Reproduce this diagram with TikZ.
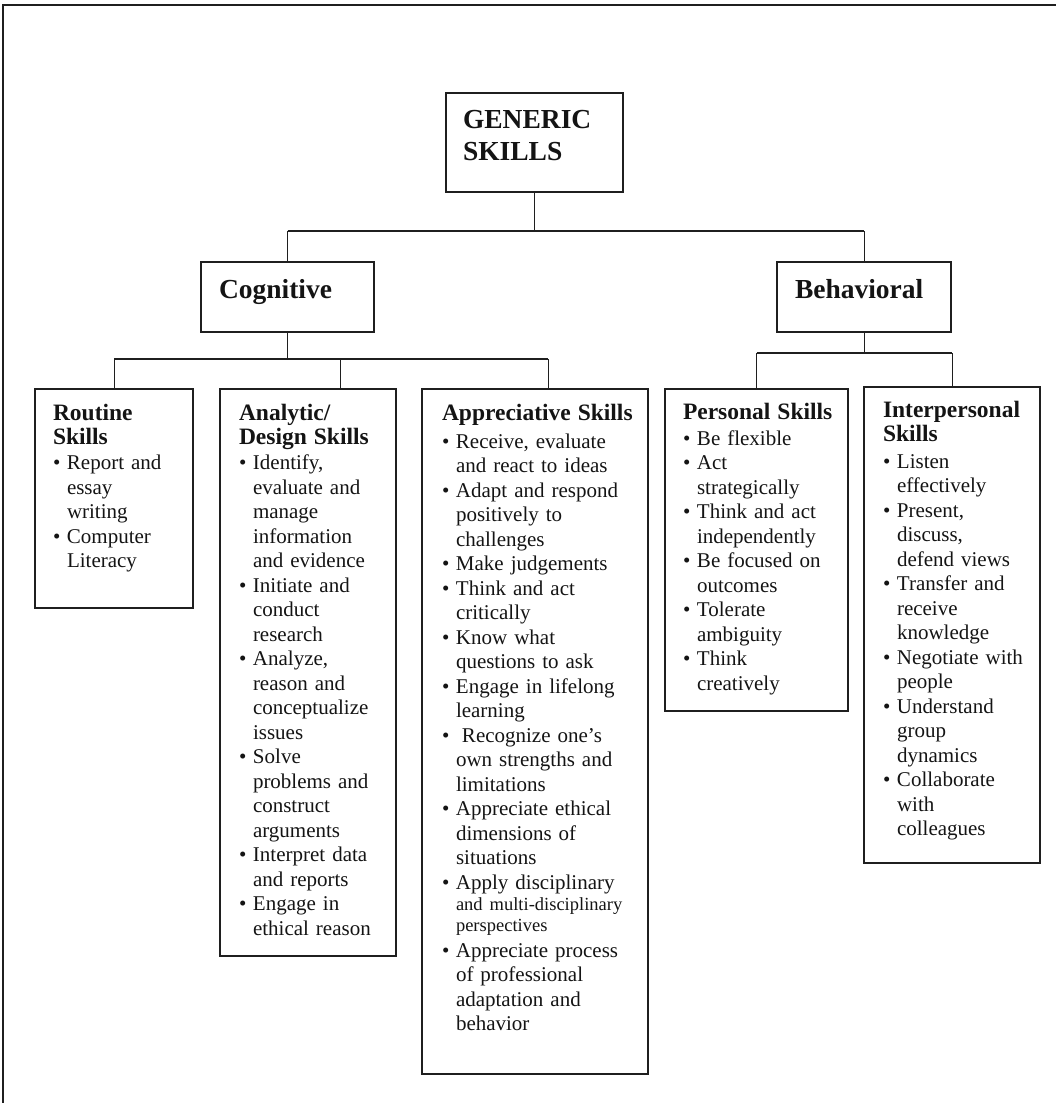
\documentclass[tikz,border=0pt]{standalone}
\usepackage{fontspec}
\setmainfont{Liberation Serif}
\newcommand{\bul}{\makebox[14pt][l]{\textbullet}}
\newcommand{\ind}{\hspace*{14pt}}
\newcommand{\hd}[1]{{\fontsize{23.5}{24.5}\selectfont\bfseries #1}}
\newcommand{\st}{\rule{0pt}{19pt}}
\begin{document}
\begin{tikzpicture}[x=1pt,y=1pt,
  box/.style={draw=black!88, line width=1.5pt, inner sep=0pt, outer sep=0pt, anchor=north west},
  txt/.style={inner sep=0pt, outer sep=0pt, anchor=north west, align=left, text width=240pt,
              font=\fontsize{21}{24.5}\selectfont, text=black!92},
  big/.style={inner sep=0pt, outer sep=0pt, font=\fontsize{27.5}{32}\selectfont\bfseries, text=black!92},
  link/.style={draw=black!88, line width=1pt},
  bar/.style={draw=black!88, line width=1.6pt},
  frame/.style={draw=black!88, line width=1.6pt}]
\useasboundingbox (0,0) rectangle (1056,-1103);
\draw[frame] (3,-1103) -- (3,-5) -- (1056,-5);

% boxes
\node[box, minimum width=177pt, minimum height=99pt] (generic) at (446,-93) {};
\node[box, minimum width=173pt, minimum height=70pt] (cog) at (201,-262) {};
\node[box, minimum width=174pt, minimum height=70pt] (beh) at (777,-262) {};
\node[box, minimum width=158pt, minimum height=219pt] (routine) at (35,-389) {};
\node[box, minimum width=176pt, minimum height=567pt] (analytic) at (220,-389) {};
\node[box, minimum width=226pt, minimum height=685pt] (appr) at (422,-389) {};
\node[box, minimum width=183pt, minimum height=322pt] (personal) at (665,-389) {};
\node[box, minimum width=176pt, minimum height=476pt] (inter) at (864,-387) {};

% titles
\node[big, anchor=north west, align=left] (generictxt) at (463,-106) {\rule{0pt}{22pt}GENERIC\\SKILLS};
\node[big, anchor=base west] (cogtxt) at (219,-298) {Cognitive};
\node[big, anchor=base west] (behtxt) at (795,-298) {Behavioral};

% contents
\node[txt] (routinetxt) at (53,-401) {\st\hd{Routine}\\ \hd{Skills}\\[0.5pt]
\bul Report and\\ \ind essay\\ \ind writing\\
\bul Computer\\ \ind Literacy};

\node[txt] (analytictxt) at (239,-401) {\st\hd{Analytic/}\\ \hd{Design Skills}\\[0.5pt]
\bul Identify,\\ \ind evaluate and\\ \ind manage\\ \ind information\\ \ind and evidence\\
\bul Initiate and\\ \ind conduct\\ \ind research\\
\bul Analyze,\\ \ind reason and\\ \ind conceptualize\\ \ind issues\\
\bul Solve\\ \ind problems and\\ \ind construct\\ \ind arguments\\
\bul Interpret data\\ \ind and reports\\
\bul Engage in\\ \ind ethical reason};

\node[txt] (apprtxt) at (442,-401) {\st\hd{Appreciative Skills}\\[3.5pt]
\bul Receive, evaluate\\ \ind and react to ideas\\
\bul Adapt and respond\\ \ind positively to\\ \ind challenges\\
\bul Make judgements\\
\bul Think and act\\ \ind critically\\
\bul Know what\\ \ind questions to ask\\
\bul Engage in lifelong\\ \ind learning\\
\bul\hspace*{6pt}Recognize one’s\\ \ind own strengths and\\ \ind limitations\\
\bul Appreciate ethical\\ \ind dimensions of\\ \ind situations\\
\bul Apply disciplinary\\[-3.5pt]
\ind{\fontsize{18.5}{21}\selectfont and multi-disciplinary}\\[-3.5pt]
\ind{\fontsize{18.5}{21}\selectfont perspectives}\\[1.5pt]
\bul Appreciate process\\ \ind of professional\\ \ind adaptation and\\ \ind behavior};

\node[txt] (personaltxt) at (683,-400) {\st\hd{Personal Skills}\\[1.5pt]
\bul Be flexible\\
\bul Act\\ \ind strategically\\
\bul Think and act\\ \ind independently\\
\bul Be focused on\\ \ind outcomes\\
\bul Tolerate\\ \ind ambiguity\\
\bul Think\\ \ind creatively};

\node[txt] (intertxt) at (883,-398) {\st\hd{Interpersonal}\\ \hd{Skills}\\[2pt]
\bul Listen\\ \ind effectively\\
\bul Present,\\ \ind discuss,\\ \ind defend views\\
\bul Transfer and\\ \ind receive\\ \ind knowledge\\
\bul Negotiate with\\ \ind people\\
\bul Understand\\ \ind group\\ \ind dynamics\\
\bul Collaborate\\ \ind with\\ \ind colleagues};

% connectors
\coordinate (j0) at (535,-231);
\coordinate (j1) at (288,-359);
\coordinate (j2) at (864,-353);
\coordinate (anx) at (340,-389);
\coordinate (apx) at (548,-389);

\draw[link] (generic.south) -- (generic.south |- j0);
\draw[bar] (cog.north |- j0) -- (beh.north |- j0);
\draw[link] (cog.north) -- (cog.north |- j0);
\draw[link] (beh.north) -- (beh.north |- j0);

\draw[link] (cog.south) -- (cog.south |- j1);
\draw[bar] (routine.north |- j1) -- (apx |- j1);
\draw[link] (routine.north) -- (routine.north |- j1);
\draw[link] (anx) -- (anx |- j1);
\draw[link] (apx) -- (apx |- j1);

\draw[link] (beh.south) -- (beh.south |- j2);
\draw[bar] (personal.north |- j2) -- (inter.north |- j2);
\draw[link] (personal.north) -- (personal.north |- j2);
\draw[link] (inter.north) -- (inter.north |- j2);
\end{tikzpicture}
\end{document}
